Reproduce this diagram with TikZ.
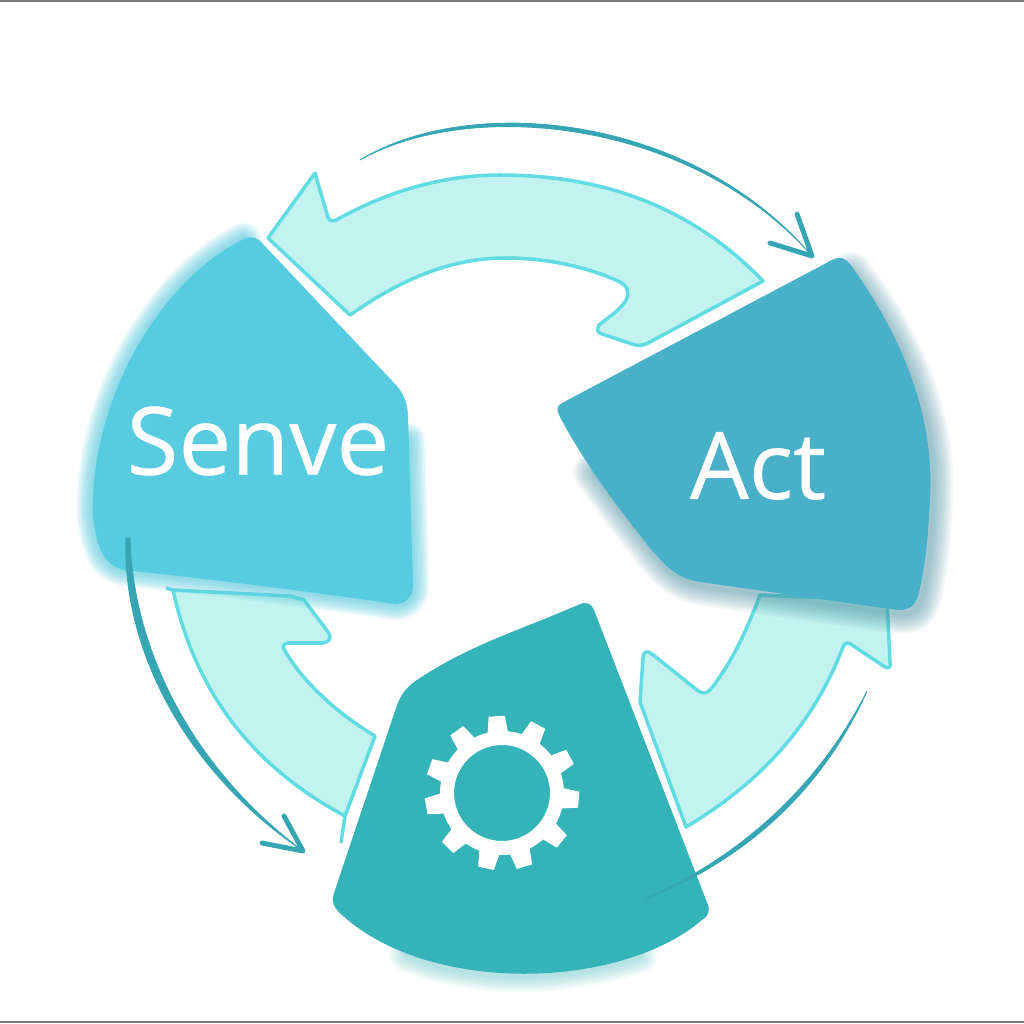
\documentclass[tikz,border=0pt]{standalone}
\usepackage{fontspec}
\setmainfont{Open Sans}
\newfontfamily\labelfont[FakeBold=0.35]{Open Sans}
\definecolor{sensecol}{HTML}{57CBDF}
\definecolor{actcol}{HTML}{49B0CA}
\definecolor{gearcol}{HTML}{34B3B8}
\definecolor{lightcol}{HTML}{C2F3EE}
\definecolor{rimcol}{HTML}{62DCE3}
\definecolor{thincol}{HTML}{36A6B4}
\tikzset{
    lightarrow/.style = {fill=lightcol, draw=rimcol, line width=1pt, line join=round},
    thinarrow/.style = {fill=thincol, draw=thincol, line width=0.25pt},
    headline/.style = {draw=thincol, line width=1.4pt, line cap=round, line join=round},
    label/.style = {text=white, inner sep=0pt}
}
\newcommand{\sensepath}{(244,239) .. controls (252,235) and (258,238) .. (263,244) -- (396,385) .. controls (404,394) and (407,402) .. (408,415) -- (413,585) .. controls (413,597) and (405,604) .. (395,604) .. controls (300,590) and (200,578) .. (125,570) .. controls (105,566) and (97,550) .. (93,515) .. controls (90,400) and (160,280) .. (244,239) -- cycle}
\newcommand{\senseedge}{(300,430) -- (409,440) -- (413,585) .. controls (413,597) and (405,604) .. (395,604) .. controls (300,590) and (200,578) .. (125,570) .. controls (105,566) and (97,550) .. (93,515) .. controls (90,400) and (160,280) .. (244,239) -- (300,400)}
\newcommand{\actpath}{(832,260) .. controls (840,256) and (845,258) .. (850,264) .. controls (905,340) and (935,420) .. (930,500) .. controls (928,540) and (925,570) .. (918,596) .. controls (915,606) and (908,611) .. (897,610) -- (700,582) .. controls (675,578) and (665,565) .. (650,548) .. controls (620,510) and (585,465) .. (559,415) .. controls (556,409) and (557,406) .. (562,403) -- cycle}
\newcommand{\actedge}{(760,420) -- (848,268) .. controls (905,340) and (935,420) .. (930,500) .. controls (928,540) and (925,570) .. (918,596) .. controls (915,606) and (908,611) .. (897,610) -- (700,582) .. controls (675,578) and (665,565) .. (650,548) .. controls (630,522) and (610,497) .. (590,468) -- (720,450)}
\newcommand{\gearpath}{(578,605) .. controls (586,601) and (591,603) .. (594,610) -- (708,905) .. controls (710,912) and (708,916) .. (702,920) .. controls (620,990) and (430,995) .. (342,915) .. controls (334,908) and (331,902) .. (334,893) -- (396,708) .. controls (400,695) and (408,685) .. (420,678) .. controls (470,645) and (520,630) .. (578,605) -- cycle}
\newcommand{\gearedge}{(600,860) -- (641,954) .. controls (560,980) and (470,980) .. (405,952) -- (440,860)}
\begin{document}
\begin{tikzpicture}[x=0.01cm, y=-0.01cm]
    \useasboundingbox (0,0) rectangle (1024,1024);
    \fill [white] (0,0) rectangle (1024,1024);
    \fill [gray!95!black] (0,0) rectangle (1024,2);
    \fill [gray!95!black] (0,1021) rectangle (1024,1023);
    % pale arrows
    \draw [lightarrow] (763,281) .. controls (690,205) and (600,175) .. (500,175) .. controls (440,175) and (385,193) .. (338,219) .. controls (331,223) and (328,220) .. (327,214) -- (315,173) -- (268,238) -- (350,315) .. controls (400,280) and (450,258) .. (505,258) .. controls (550,258) and (590,268) .. (620,282) .. controls (628,286) and (630,294) .. (625,302) .. controls (618,312) and (607,318) .. (599,325) .. controls (596,330) and (598,333) .. (602,334) -- (635,345) .. controls (640,346) and (645,345) .. (650,342) -- cycle;
    \draw [lightarrow] (173,590) -- (290,596) -- (304,600) -- (328,632) .. controls (332,638) and (330,642) .. (322,643) -- (288,643) .. controls (283,643) and (282,647) .. (285,651) .. controls (305,685) and (340,715) .. (375,736) -- (345,816) .. controls (250,765) and (195,690) .. (173,590) -- cycle;
    \draw [rimcol, line width=1pt] (345,816) -- (341,843);
    \draw [rimcol, line width=1pt] (166,588) -- (173,590);
    \draw [lightarrow] (760,595) .. controls (745,635) and (730,665) .. (710,690) .. controls (706,694) and (702,694) .. (697,690) -- (652,654) .. controls (647,650) and (643,652) .. (643,658) -- (640,702) -- (686,827) .. controls (765,780) and (815,720) .. (843,647) .. controls (845,642) and (848,642) .. (852,645) -- (885,667) .. controls (889,669) and (891,667) .. (890,663) -- (887,600) -- cycle;
    % soft edges of the blocks
    \foreach \w in {3,6,...,33}
        \draw [sensecol, opacity=0.09, line width=\w*0.01cm, line join=round] \senseedge;
    \fill [sensecol] \sensepath;
    \foreach \w in {4,8,...,40}
        \draw [black!25!actcol, opacity=0.06, line width=\w*0.01cm, line join=round, shift={(3,4)}] \actedge;
    \fill [actcol] \actpath;
    \foreach \w in {4,8,...,32}
        \draw [gearcol, opacity=0.05, line width=\w*0.01cm, line join=round, shift={(0,3)}] \gearedge;
    \fill [gearcol] \gearpath;
    % thin arrows
    \coordinate (topstart) at (360,160);
    \coordinate (topend) at (812,256);
    \coordinate (lefttop) at (126,538);
    \coordinate (leftend) at (303,851);
    \coordinate (rightstart) at (867,691);
    \coordinate (rightend) at (645,899);
    \fill [thinarrow] (topstart) .. controls (470,93) and (690,113) .. (topend) .. controls (690,118) and (470,98) .. (topstart) -- cycle;
    \draw [headline] (797,214) -- (topend) -- (770,243);
    \fill [thinarrow] (lefttop) -- (130,538) .. controls (133,650) and (192,768) .. (leftend) .. controls (186,772) and (122,650) .. (lefttop) -- cycle;
    \draw [headline] (284,816) -- (leftend) -- (262,843);
    \fill [thinarrow] (rightstart) .. controls (822,792) and (742,862) .. (rightend) .. controls (738,858) and (818,788) .. (rightstart) -- cycle;
    % labels
    \node [label, font=\labelfont\fontsize{26.8}{32}\selectfont] (sense) at (258,441) {Senve};
    \node [label, font=\labelfont\fontsize{26.5}{30}\selectfont] (act) at (758,466) {Act};
    % gear
    \begin{scope}[shift={(502,793)}]
        \draw [white, line width=0.14cm] (0,0) circle (55);
        \foreach \a in {94,62,28,-5,-39,-73,-102,-135,-170,160,126}
            \fill [white, rotate=\a] (55,-11) -- (77,-8) -- (77,8) -- (55,11) -- cycle;
    \end{scope}
\end{tikzpicture}
\end{document}
